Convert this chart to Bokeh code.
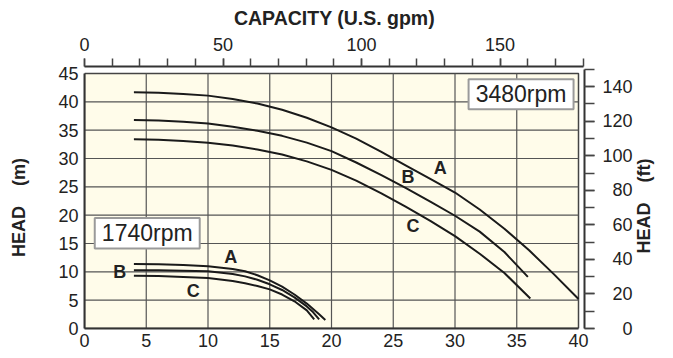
import math
from bokeh.plotting import figure
from bokeh.models import LinearAxis, Range1d, FixedTicker
from bokeh.core.properties import value
from bokeh.embed import file_html
from bokeh.resources import INLINE

# ---------------- data ----------------
# capacity in m3/h, head in m
hi_a_x = [4, 6, 8, 10, 12, 14, 16, 18, 20, 22, 24, 26, 28, 30, 32, 34, 36, 38, 40]
hi_a_y = [41.7, 41.6, 41.4, 41.1, 40.5, 39.7, 38.6, 37.2, 35.5, 33.5, 31.2, 28.8, 26.4, 24.0, 21.0, 17.6, 13.8, 9.6, 5.2]
hi_b_x = [4, 6, 8, 10, 12, 14, 16, 18, 20, 22, 24, 26, 28, 30, 32, 34, 35.9]
hi_b_y = [36.8, 36.7, 36.5, 36.2, 35.6, 34.9, 34.0, 32.8, 31.3, 29.3, 27.1, 24.8, 22.4, 19.9, 17.1, 13.5, 9.1]
hi_c_x = [4, 6, 8, 10, 12, 14, 16, 18, 20, 22, 24, 26, 28, 30, 32, 34, 36.1]
hi_c_y = [33.4, 33.3, 33.1, 32.8, 32.3, 31.6, 30.7, 29.5, 28.0, 26.1, 23.9, 21.5, 19.0, 16.3, 13.2, 9.8, 5.3]

lo_a_x = [4, 6, 8, 10, 12, 13, 14, 15, 16, 17, 18, 19, 19.5]
lo_a_y = [11.4, 11.35, 11.2, 11.0, 10.5, 10.1, 9.4, 8.5, 7.4, 6.0, 4.4, 2.5, 1.5]
lo_b_x = [4, 6, 8, 10, 12, 13, 14, 15, 16, 17, 18, 18.5, 19.0]
lo_b_y = [10.3, 10.3, 10.2, 10.1, 9.6, 9.2, 8.6, 7.8, 6.8, 5.5, 3.9, 2.9, 1.6]
lo_c_x = [4, 6, 8, 10, 12, 13, 14, 15, 16, 17, 18, 18.6]
lo_c_y = [9.3, 9.25, 9.1, 8.9, 8.4, 8.0, 7.5, 6.9, 6.0, 4.8, 3.2, 1.6]

curve_labels = ["A", "B", "C", "A", "B", "C"]
curve_label_x = [28.8, 26.2, 26.6, 11.85, 2.86, 8.8]
curve_label_y = [28.3, 26.7, 18.1, 12.6, 10.0, 6.7]

rpm_labels = ["1740rpm", "3480rpm"]
rpm_x = [5.08, 35.35]
rpm_y = [16.8, 41.35]
rpm_w = [8.5, 8.5]
rpm_h = [5.4, 5.3]

x_ticks = [0, 5, 10, 15, 20, 25, 30, 35, 40]
y_ticks = [0, 5, 10, 15, 20, 25, 30, 35, 40, 45]
gpm_ticks = [0, 50, 100, 150]
gpm_minor = [0, 10, 20, 30, 40, 50, 60, 70, 80, 90, 100, 110, 120, 130, 140, 150, 160, 170, 180]
ft_ticks = [0, 20, 40, 60, 80, 100, 120, 140]
ft_minor = [0, 10, 20, 30, 40, 50, 60, 70, 80, 90, 100, 110, 120, 130, 140, 150]

NB = "\u00a0"
top_title = "CAPACITY (U.S. gpm)"
left_title = "HEAD" + NB * 3 + " (m)" + NB * 4
right_title = NB * 15 + "HEAD" + NB * 3 + " (ft)"

X_MAX = 40
Y_MAX = 45
X_END = 40.486
Y_END = 46.24
M3H_PER_GPM = 0.2243
M_PER_FT = 0.3048

CREAM = "#FFFCEA"
INK = "#222222"
FONT = "Liberation Sans"

p = figure(width=673, height=358,
           x_range=Range1d(0, X_END), y_range=Range1d(0, Y_END),
           output_backend="svg", toolbar_location=None,
           min_border_left=84, min_border_right=89,
           min_border_top=66, min_border_bottom=30,
           background_fill_color="white", border_fill_color="white",
           outline_line_color=None)
p.xgrid.visible = False
p.ygrid.visible = False

p.extra_x_ranges = {"gpm": Range1d(0, X_END / M3H_PER_GPM)}
p.extra_y_ranges = {"ft": Range1d(0, Y_END / M_PER_FT)}


def style_axis(ax, title_size="18px"):
    ax.axis_line_color = "#333333"
    ax.axis_line_width = 2
    ax.major_tick_line_color = "#444444"
    ax.minor_tick_line_color = "#444444"
    ax.major_tick_line_width = 1.5
    ax.minor_tick_line_width = 1.5
    ax.major_label_text_font = FONT
    ax.major_label_text_font_size = "18px"
    ax.major_label_text_color = INK
    ax.axis_label_text_font = FONT
    ax.axis_label_text_font_size = title_size
    ax.axis_label_text_font_style = "bold"
    ax.axis_label_text_color = INK


# bottom axis (m3/h)
bx = p.xaxis[0]
style_axis(bx)
bx.ticker = FixedTicker(ticks=x_ticks, minor_ticks=[])
bx.bounds = (0, X_MAX)
bx.major_tick_out = 0
bx.major_tick_in = 0
bx.minor_tick_out = 0
bx.major_label_standoff = 5

# left axis (m)
ly = p.yaxis[0]
style_axis(ly)
ly.ticker = FixedTicker(ticks=y_ticks, minor_ticks=[])
ly.bounds = (0, Y_MAX)
ly.major_tick_out = 0
ly.major_tick_in = 0
ly.minor_tick_out = 0
ly.major_label_standoff = 6
ly.axis_label = left_title
ly.axis_label_standoff = 26

# top axis (gpm)
top = LinearAxis(x_range_name="gpm",
                 ticker=FixedTicker(ticks=gpm_ticks, minor_ticks=gpm_minor),
                 axis_label=top_title)
style_axis(top, "19.5px")
top.bounds = (0, 180)
top.major_tick_out = 8
top.major_tick_in = 0
top.minor_tick_out = 8
top.minor_tick_in = 0
top.major_label_standoff = 8
top.axis_label_standoff = 6
p.add_layout(top, "above")

# right axis (ft)
ft_over = {}
for t in ft_ticks:
    s = str(t)
    ft_over[t] = NB * (2 * (3 - len(s))) + s
right = LinearAxis(y_range_name="ft",
                   ticker=FixedTicker(ticks=ft_ticks, minor_ticks=ft_minor),
                   major_label_overrides=ft_over,
                   axis_label=right_title)
style_axis(right)
right.bounds = (0, 150)
right.major_tick_out = 10
right.major_tick_in = 0
right.minor_tick_out = 10
right.minor_tick_in = 0
right.major_label_standoff = 8
right.axis_label_orientation = math.pi / 2
right.axis_label_align = "start"
right.axis_label_standoff = 8
p.add_layout(right, "right")

# cream plotting box
p.quad(left=[0], right=[X_MAX], bottom=[0], top=[Y_MAX],
       fill_color=CREAM, line_color="#444444", line_width=1.5)

# grid
gx = [t for t in x_ticks if 0 < t < X_MAX]
gy = [t for t in y_ticks if 0 < t < Y_MAX]
p.segment(x0=gx, y0=[0] * len(gx), x1=gx, y1=[Y_MAX] * len(gx),
          line_color="#555555", line_width=1.2)
p.segment(x0=[0] * len(gy), y0=gy, x1=[X_MAX] * len(gy), y1=gy,
          line_color="#555555", line_width=1.2)

# curves
for xs, ys in [(hi_a_x, hi_a_y), (hi_b_x, hi_b_y), (hi_c_x, hi_c_y),
               (lo_a_x, lo_a_y), (lo_b_x, lo_b_y), (lo_c_x, lo_c_y)]:
    p.line(xs, ys, line_color="#1a1a1a", line_width=2)

# curve letters
p.text(x=curve_label_x, y=curve_label_y, text=curve_labels,
       text_font=value(FONT), text_font_style="bold",
       text_font_size=value("18px"), text_color=INK,
       text_align="center", text_baseline="middle")

# rpm boxes
p.rect(x=rpm_x, y=rpm_y, width=rpm_w, height=rpm_h,
       fill_color="white", line_color="#9a9a9a", line_width=2)
p.text(x=rpm_x, y=rpm_y, text=rpm_labels,
       text_font=value(FONT), text_font_size=value("23px"), text_color=INK,
       text_align="center", text_baseline="middle")

open("out.html", "w").write(file_html(p, INLINE))
